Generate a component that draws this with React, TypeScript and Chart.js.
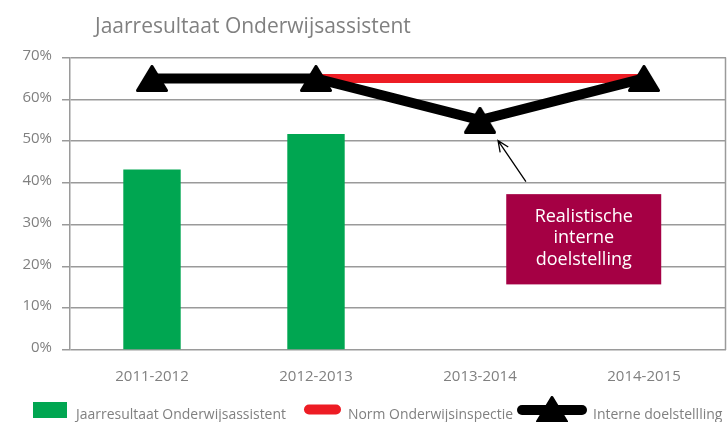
import React, { useEffect, useRef } from 'react';
import { Chart, registerables } from 'chart.js';

Chart.register(...registerables);

const TITLE = 'Jaarresultaat Onderwijsassistent';
const categories = ['2011-2012', '2012-2013', '2013-2014', '2014-2015'];
const seriesLabels = ['Jaarresultaat Onderwijsassistent', 'Norm Onderwijsinspectie', 'Interne doelstellling'];
const jaarresultaat = [43.2, 51.7, null, null];
const normOnderwijsinspectie = [null, 65, 65, 65];
const interneDoelstelling = [65, 65, 55, 65];
const yMin = 0;
const yMax = 70;
const yStep = 10;
const annotationLines = ['Realistische', 'interne', 'doelstelling'];
// annotation anchored in data units (category index, percent)
const annotationBox = { x0: 2.16, x1: 3.105, yTop: 37.3, yBottom: 15.7 };
const annotationArrow = { fromX: 2.28, fromY: 40.3, toX: 2.11, toY: 50.1 };

const GRAY_TEXT = '#808080';
const GRID = '#9a9a9a';
const GREEN = '#00A651';
const RED = '#ED1C24';
const BOX = '#A50044';
const FONT = "'Open Sans', 'Noto Sans', sans-serif";

function makeTriangle(): HTMLCanvasElement {
  const c = document.createElement('canvas');
  c.width = 32;
  c.height = 27;
  const ctx = c.getContext('2d')!;
  ctx.fillStyle = '#000';
  ctx.strokeStyle = '#000';
  ctx.lineJoin = 'round';
  ctx.lineWidth = 3;
  ctx.beginPath();
  ctx.moveTo(16, 1.5);
  ctx.lineTo(30.5, 25.5);
  ctx.lineTo(1.5, 25.5);
  ctx.closePath();
  ctx.fill();
  ctx.stroke();
  return c;
}

export default function App() {
  const ref = useRef<HTMLCanvasElement | null>(null);

  useEffect(() => {
    const canvas = ref.current;
    if (!canvas) return;
    const tri = makeTriangle();

    const decor = {
      id: 'decor',
      beforeDraw(chart: any) {
        const { ctx } = chart;
        ctx.save();
        ctx.fillStyle = '#ffffff';
        ctx.fillRect(0, 0, chart.width, chart.height);
        ctx.restore();
      },
      afterDatasetsDraw(chart: any) {
        const { ctx, chartArea, scales } = chart;
        const xs = scales.x;
        const ys = scales.y;
        ctx.save();
        // right frame line
        ctx.strokeStyle = GRID;
        ctx.lineWidth = 1.5;
        ctx.beginPath();
        ctx.moveTo(chartArea.right - 0.5, chartArea.top);
        ctx.lineTo(chartArea.right - 0.5, chartArea.bottom);
        ctx.stroke();

        // annotation box
        const bx0 = xs.getPixelForValue(annotationBox.x0);
        const bx1 = xs.getPixelForValue(annotationBox.x1);
        const by0 = ys.getPixelForValue(annotationBox.yTop);
        const by1 = ys.getPixelForValue(annotationBox.yBottom);
        ctx.fillStyle = BOX;
        ctx.fillRect(bx0, by0, bx1 - bx0, by1 - by0);
        ctx.fillStyle = '#ffffff';
        ctx.font = `18px ${FONT}`;
        ctx.textAlign = 'center';
        ctx.textBaseline = 'middle';
        const cx = (bx0 + bx1) / 2;
        const cy = (by0 + by1) / 2;
        const lh = 21.5;
        annotationLines.forEach((t, i) => {
          ctx.fillText(t, cx, cy + (i - (annotationLines.length - 1) / 2) * lh - 1);
        });

        // arrow
        const ax0 = xs.getPixelForValue(annotationArrow.fromX);
        const ay0 = ys.getPixelForValue(annotationArrow.fromY);
        const ax1 = xs.getPixelForValue(annotationArrow.toX);
        const ay1 = ys.getPixelForValue(annotationArrow.toY);
        ctx.strokeStyle = '#000';
        ctx.lineWidth = 1.3;
        ctx.beginPath();
        ctx.moveTo(ax0, ay0);
        ctx.lineTo(ax1, ay1);
        const ang = Math.atan2(ay1 - ay0, ax1 - ax0);
        const hl = 12;
        const spread = 0.42;
        ctx.moveTo(ax1 - hl * Math.cos(ang - spread), ay1 - hl * Math.sin(ang - spread));
        ctx.lineTo(ax1, ay1);
        ctx.lineTo(ax1 - hl * Math.cos(ang + spread), ay1 - hl * Math.sin(ang + spread));
        ctx.stroke();
        ctx.restore();
      },
      afterDraw(chart: any) {
        const { ctx } = chart;
        ctx.save();
        // title
        ctx.fillStyle = GRAY_TEXT;
        ctx.font = `21px ${FONT}`;
        ctx.textAlign = 'left';
        ctx.textBaseline = 'alphabetic';
        ctx.fillText(TITLE, 95, 33, 317);

        // legend
        ctx.font = `14px ${FONT}`;
        // item 1: green box
        ctx.fillStyle = GREEN;
        ctx.fillRect(33, 402, 34, 16);
        ctx.fillStyle = GRAY_TEXT;
        ctx.fillText(seriesLabels[0], 76, 419, 210);
        // item 2: red pill
        ctx.strokeStyle = RED;
        ctx.lineCap = 'round';
        ctx.lineWidth = 10;
        ctx.beginPath();
        ctx.moveTo(309, 409.5);
        ctx.lineTo(336, 409.5);
        ctx.stroke();
        ctx.fillStyle = GRAY_TEXT;
        ctx.fillText(seriesLabels[1], 348, 419, 165);
        // item 3: black pill with triangle
        ctx.strokeStyle = '#000';
        ctx.beginPath();
        ctx.moveTo(522, 410);
        ctx.lineTo(582, 410);
        ctx.stroke();
        ctx.drawImage(tri, 552 - tri.width / 2, 396);
        ctx.fillStyle = GRAY_TEXT;
        ctx.fillText(seriesLabels[2], 593, 419, 134);
        ctx.restore();
      },
    };

    const chart = new Chart(canvas, {
      type: 'bar',
      data: {
        labels: categories,
        datasets: [
          {
            type: 'line',
            label: seriesLabels[2],
            data: interneDoelstelling,
            borderColor: '#000',
            backgroundColor: '#000',
            borderWidth: 10,
            pointStyle: tri,
            pointRadius: 13,
            pointHoverRadius: 13,
            fill: false,
            tension: 0,
            order: 0,
            clip: 20,
          } as any,
          {
            type: 'line',
            label: seriesLabels[1],
            data: normOnderwijsinspectie,
            borderColor: RED,
            backgroundColor: RED,
            borderWidth: 9,
            pointRadius: 0,
            fill: false,
            tension: 0,
            order: 1,
          } as any,
          {
            type: 'bar',
            label: seriesLabels[0],
            data: jaarresultaat,
            backgroundColor: GREEN,
            borderWidth: 0,
            barPercentage: 0.35,
            categoryPercentage: 1,
            order: 2,
          } as any,
        ],
      },
      options: {
        responsive: false,
        animation: false,
        devicePixelRatio: 1,
        layout: { autoPadding: false, padding: { top: 57.5, right: 1, left: 0, bottom: 0 } },
        plugins: {
          legend: { display: false },
          title: { display: false },
          tooltip: { enabled: false },
        },
        scales: {
          x: {
            grid: { display: false, drawTicks: false },
            border: { display: false },
            ticks: {
              color: GRAY_TEXT,
              font: { family: FONT, size: 15 },
              padding: 18,
              maxRotation: 0,
            },
            afterFit(scale: any) {
              scale.height = 72;
              scale.paddingLeft = 0;
              scale.paddingRight = 0;
            },
          },
          y: {
            min: yMin,
            max: yMax,
            grid: { color: GRID, lineWidth: 1.5, tickLength: 8, drawTicks: true },
            border: { display: true, color: GRID, width: 1.5 },
            ticks: {
              stepSize: yStep,
              color: GRAY_TEXT,
              font: { family: FONT, size: 15 },
              padding: 10,
              labelOffset: -2,
              callback: (v: any) => `${v}%`,
            },
            afterFit(scale: any) {
              scale.width = 70;
              scale.paddingTop = 0;
              scale.paddingBottom = 0;
            },
          },
        },
      },
      plugins: [decor],
    });

    return () => chart.destroy();
  }, []);

  return (
    <div style={{ position: 'fixed', left: 0, top: 0, width: 727, height: 422, background: '#fff' }}>
      <canvas ref={ref} width={727} height={422} style={{ width: 727, height: 422, display: 'block' }} />
    </div>
  );
}
